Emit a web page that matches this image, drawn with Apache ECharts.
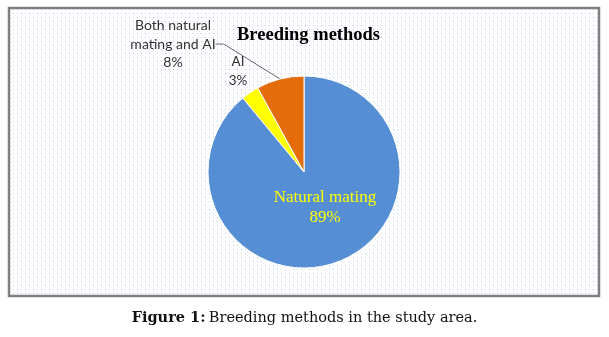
<!DOCTYPE html>
<html>
<head>
<meta charset="utf-8">
<script src="https://cdn.jsdelivr.net/npm/echarts@6/dist/echarts.min.js"></script>
<style>
  html, body { margin: 0; padding: 0; background: #fff; }
  #chart { width: 609px; height: 337px; }
</style>
</head>
<body>
<div id="chart"></div>
<script>
// 图表数据
const categories = ['Natural mating', 'AI', 'Both natural\nmating and AI']
const shares = [89, 3, 8]
const sliceColors = ['#558ed5', '#ffff00', '#e46c0a']

// 点状背景纹理
function dotPattern() {
  const c = document.createElement('canvas')
  c.width = 8
  c.height = 8
  const ctx = c.getContext('2d')
  ctx.fillStyle = '#ffffff'
  ctx.fillRect(0, 0, 8, 8)
  ctx.fillStyle = '#a9c6ec'
  ctx.fillRect(1, 1, 1, 1)
  ctx.fillRect(5, 5, 1, 1)
  ctx.fillStyle = '#cfd5e6'
  ctx.fillRect(5, 1, 1, 1)
  ctx.fillRect(1, 5, 1, 1)
  ctx.fillStyle = '#eef2f9'
  ctx.fillRect(3, 3, 1, 1)
  ctx.fillRect(7, 7, 1, 1)
  return c
}

// 标签位置（中心点）
const labelSpots = [
  { x: 325, y: 208 },
  { x: 238, y: 71 },
  { x: 173, y: 44 }
]

const chart = echarts.init(document.getElementById('chart'), null, { renderer: 'canvas' })

const option = {
  backgroundColor: '#ffffff',
  animation: false,
  graphic: [
    {
      type: 'rect',
      z: -10,
      shape: { x: 9, y: 8, width: 590, height: 288 },
      style: { fill: { image: dotPattern(), repeat: 'repeat' }, stroke: '#808080', lineWidth: 2.5 }
    },
    {
      type: 'text',
      left: 'center',
      top: 311,
      style: {
        rich: {
          b: { fontFamily: 'DejaVu Serif', fontWeight: 'bold', fontSize: 14.5, fill: '#111' },
          n: { fontFamily: 'DejaVu Serif', fontSize: 14.5, fill: '#111' }
        },
        text: '{b|Figure 1:} {n|Breeding methods in the study area.}'
      }
    }
  ],
  title: {
    text: 'Breeding methods',
    left: 232,
    top: 21,
    textStyle: {
      fontFamily: 'Liberation Serif',
      fontWeight: 'bold',
      fontSize: 18.5,
      color: '#000'
    }
  },
  series: [
    {
      type: 'pie',
      center: [304, 172],
      radius: [0, 96],
      startAngle: 90,
      clockwise: true,
      avoidLabelOverlap: false,
      itemStyle: { borderColor: '#ffffff', borderWidth: 1 },
      label: {
        show: true,
        formatter: p => p.name + '\n' + p.value + '%',
        fontFamily: 'Lato',
        fontSize: 14,
        lineHeight: 18.5,
        color: '#333',
        align: 'center'
      },
      labelLine: {
        show: true,
        length: 30,
        length2: 8,
        lineStyle: { color: '#404040', width: 0.8 }
      },
      labelLayout: p => {
        const s = labelSpots[p.dataIndex]
        return { x: s.x, y: s.y, align: 'center', verticalAlign: 'middle' }
      },
      data: categories.map((name, i) => {
        const item = { name, value: shares[i], itemStyle: { color: sliceColors[i] } }
        if (i === 0) {
          item.label = {
            position: 'inside',
            fontFamily: 'Liberation Serif',
            fontSize: 17,
            lineHeight: 20,
            color: '#ffff00'
          }
          item.labelLine = { show: false }
        } else if (i === 1) {
          item.label = { fontSize: 13.5 }
          item.labelLine = { show: false }
        }
        return item
      })
    }
  ]
}

chart.setOption(option)
</script>
</body>
</html>
